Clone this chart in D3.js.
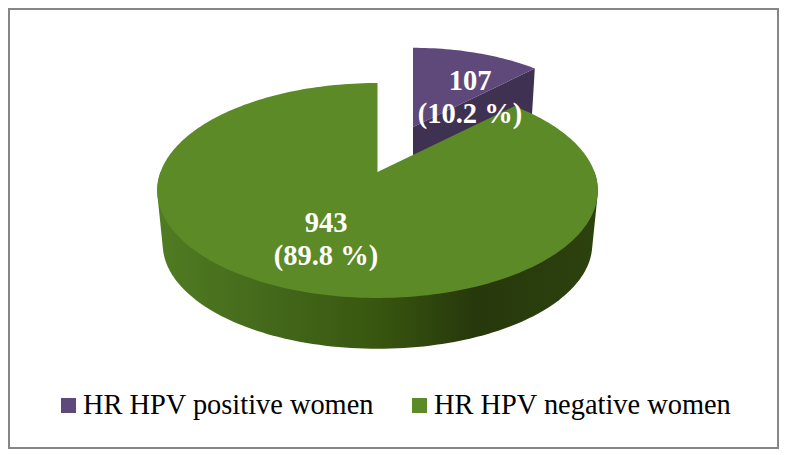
<!DOCTYPE html>
<html>
<head>
<meta charset="utf-8">
<style>
  html, body { margin: 0; padding: 0; background: #fff; }
  text { font-family: "Liberation Serif", "Times New Roman", serif; }
  .slice-label { fill: #fff; font-size: 28.5px; font-weight: bold; text-anchor: middle; }
  .legend-label { fill: #000; font-size: 28.4px; }
</style>
<script src="https://cdn.jsdelivr.net/npm/d3@7"></script>
</head>
<body>
<svg id="chart" style="display:block"></svg>
<script>
/* DATA */
const categories = ["HR HPV positive women", "HR HPV negative women"];
const counts = [107, 943];
const percents = ["10.2 %", "89.8 %"];

/* CONSTANTS */
const width = 786,
  height = 455;
const topColors = ["#5f497a", "#5b8a27"];
const purpleSide = "#3f3151";

// the pie is a tilted disc, so circle points go through a perspective map
const cx = 377.5,
  cy = 172,
  radiusX = 217,
  radiusY = 104.3,
  perspective = 0.172,
  depth = 54,
  lowerScale = 0.975,
  angleSkew = (8.7 * Math.PI) / 180;

// purple slice is pulled out and drawn a bit smaller
const explode = { x: 35.5, y: -45, scale: 0.89 };

const svg = d3.select("#chart").attr("width", width).attr("height", height);

function project(angle, r, lower) {
  const t = angle + angleSkew * Math.sin(2 * angle);
  const u = Math.sin(t) * r;
  const v = -Math.cos(t) * r;
  const s = 1 / (1 - perspective * v);
  const f = lower ? lowerScale : 1;
  return [
    cx + radiusX * u * s * f,
    cy + (lower ? depth : 0) + radiusY * v * s * f
  ];
}

function arcPoints(a0, a1, lower) {
  const n = Math.max(2, Math.ceil(Math.abs(a1 - a0) / 0.02));
  return d3.range(n + 1).map(i => project(a0 + ((a1 - a0) * i) / n, 1, lower));
}

const moved = p => [
  cx + explode.x + (p[0] - cx) * explode.scale,
  cy + explode.y + (p[1] - cy) * explode.scale
];

const slices = d3.pie().sort(null)(counts);
const line = d3.line();
const closed = pts => line(pts) + "Z";

/* FRAME */
svg.append("rect")
  .attr("x", 9).attr("y", 9)
  .attr("width", 769).attr("height", 439)
  .attr("fill", "#fff")
  .attr("stroke", "#868686")
  .attr("stroke-width", 2);

/* SIDE GRADIENT */
const grad = svg.append("defs").append("linearGradient")
  .attr("id", "side")
  .attr("gradientUnits", "userSpaceOnUse")
  .attr("x1", 157).attr("x2", 598)
  .attr("y1", 0).attr("y2", 0);
[
  [0, "#507c22"],
  [0.25, "#44691b"],
  [0.5, "#38560f"],
  [0.72, "#27380c"],
  [1, "#2c420e"]
].forEach(d => grad.append("stop").attr("offset", d[0]).attr("stop-color", d[1]));

/* PURPLE SLICE */
const hpvPos = slices[0];
const apex = [cx, cy];
const apexLow = [cx, cy + depth];
const posTop = arcPoints(hpvPos.startAngle, hpvPos.endAngle, false);
const posLow = arcPoints(hpvPos.startAngle, hpvPos.endAngle, true);

svg.append("path")
  .attr("fill", purpleSide)
  .attr("d", closed([apex, posTop[posTop.length - 1], posLow[posLow.length - 1], apexLow].map(moved)));

svg.append("path")
  .attr("fill", topColors[0])
  .attr("d", closed([apex].concat(posTop).map(moved)));

/* GREEN SLICE */
const hpvNeg = slices[1];
const frontStart = Math.PI / 2,
  frontEnd = (3 * Math.PI) / 2;
const hull = d3.polygonHull(
  arcPoints(frontStart, frontEnd, false).concat(arcPoints(frontStart, frontEnd, true))
);

svg.append("path")
  .attr("fill", "url(#side)")
  .attr("d", closed(hull));

svg.append("path")
  .attr("fill", topColors[1])
  .attr("d", closed([apex].concat(arcPoints(hpvNeg.startAngle, hpvNeg.endAngle, false))));

/* SLICE LABELS */
const labelSpots = [[470, 90], [326, 232]];
counts.forEach((c, i) => {
  svg.append("text").attr("class", "slice-label")
    .attr("x", labelSpots[i][0]).attr("y", labelSpots[i][1]).text(c);
  svg.append("text").attr("class", "slice-label")
    .attr("x", labelSpots[i][0]).attr("y", labelSpots[i][1] + 33).text(`(${percents[i]})`);
});

/* LEGEND */
const legendX = [61, 412];
categories.forEach((name, i) => {
  svg.append("rect")
    .attr("x", legendX[i]).attr("y", 398)
    .attr("width", 15).attr("height", 15)
    .attr("fill", topColors[i]);
  svg.append("text").attr("class", "legend-label")
    .attr("x", legendX[i] + 22).attr("y", 414)
    .text(name);
});
</script>
</body>
</html>
